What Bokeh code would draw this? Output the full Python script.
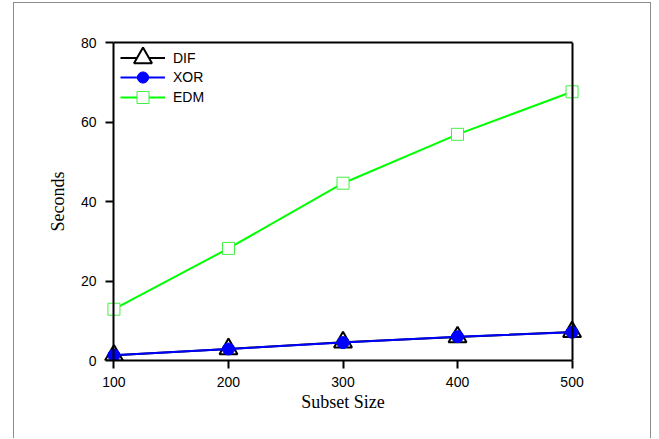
from bokeh.plotting import figure
from bokeh.models import Range1d, LinearAxis, FixedTicker, Legend, LegendItem
from bokeh.embed import file_html
from bokeh.resources import INLINE

# ---- data ----
subset_size = [100, 200, 300, 400, 500]
dif_seconds = [1.3, 2.9, 4.6, 5.9, 7.2]
xor_seconds = [1.3, 2.9, 4.5, 6.0, 7.1]
edm_seconds = [12.9, 28.2, 44.6, 56.9, 67.6]
x_ticks = [100, 200, 300, 400, 500]
y_ticks = [0, 20, 40, 60, 80]
X_MIN, X_MAX = 100, 500
Y_MIN, Y_MAX = 0, 80
X_PAD = 10

TICK_FONT = "Liberation Sans"
TITLE_FONT = "Liberation Serif"

p = figure(width=638, height=436, output_backend="svg", toolbar_location=None,
           x_range=Range1d(X_MIN - X_PAD, X_MAX + X_PAD),
           y_range=Range1d(Y_MIN, Y_MAX),
           min_border_left=88, min_border_right=69,
           min_border_top=39, min_border_bottom=79,
           x_axis_label="Subset Size", y_axis_label="Seconds")
p.margin = (2, 0, 0, 13)
p.styles = {"border-left": "1px solid #8c8c8c",
            "border-top": "1px solid #8c8c8c",
            "border-right": "1px solid #8c8c8c"}
p.grid.visible = False
p.outline_line_color = None
p.background_fill_color = "white"
p.border_fill_color = "white"

for ax in [p.xaxis[0], p.yaxis[0]]:
    ax.axis_line_width = 2
    ax.axis_line_color = "black"
    ax.major_tick_line_width = 2
    ax.major_tick_out = 8
    ax.major_tick_in = 0
    ax.minor_tick_line_color = None
    ax.major_label_text_font = TICK_FONT
    ax.major_label_text_font_size = "14px"
    ax.major_label_text_color = "black"
    ax.axis_label_text_font = TITLE_FONT
    ax.axis_label_text_font_size = "18px"
    ax.axis_label_text_font_style = "normal"
    ax.axis_label_text_color = "black"

p.xaxis.ticker = FixedTicker(ticks=x_ticks)
p.xaxis.bounds = (X_MIN, X_MAX)
p.xaxis.major_label_standoff = 8
p.xaxis.axis_label_standoff = 2

# left axis at the frame edge: labels, title and ticks shifted onto x = X_MIN
yax = p.yaxis[0]
yax.ticker = FixedTicker(ticks=y_ticks)
yax.axis_line_color = None
yax.major_tick_out = -3
yax.major_tick_in = 11
yax.major_label_standoff = 6
yax.axis_label_standoff = 10

# left axis line placed at x = X_MIN (no ticks, no labels)
left_line = LinearAxis(bounds=(Y_MIN, Y_MAX), ticker=FixedTicker(ticks=[]),
                       axis_line_width=2, major_tick_line_color=None,
                       minor_tick_line_color=None, fixed_location=X_MIN)
p.add_layout(left_line, "left")

top_axis = LinearAxis(bounds=(X_MIN, X_MAX), ticker=FixedTicker(ticks=[]),
                      axis_line_width=2, major_tick_line_color=None,
                      minor_tick_line_color=None)
p.add_layout(top_axis, "above")
right_axis = LinearAxis(bounds=(Y_MIN, Y_MAX), ticker=FixedTicker(ticks=[]),
                        axis_line_width=2, major_tick_line_color=None,
                        minor_tick_line_color=None, fixed_location=X_MAX)
p.add_layout(right_axis, "right")

# ---- series ----
dif_l = p.line(subset_size, dif_seconds, line_color="black", line_width=2)
dif_m = p.scatter(subset_size, dif_seconds, marker="triangle", size=18, fill_color="white",
                  line_color="black", line_width=2)

xor_l = p.line(subset_size, xor_seconds, line_color="#0000ff", line_width=2)
xor_m = p.scatter(subset_size, xor_seconds, marker="circle", size=12, fill_color="#0000ff",
                  line_color="#0000ff")

edm_l = p.line(subset_size, edm_seconds, line_color="#00ff00", line_width=2)
edm_m = p.scatter(subset_size, edm_seconds, marker="square", size=12, fill_color="white",
                  line_color="#44ee44", line_width=1)


def make_legend(label, renderers, glyph_h, loc):
    lg = Legend(items=[LegendItem(label=label, renderers=renderers)],
                location=loc, padding=0, margin=0, spacing=0,
                glyph_width=45, glyph_height=glyph_h, label_height=glyph_h,
                label_standoff=8, background_fill_alpha=0, border_line_color=None,
                label_text_font=TICK_FONT, label_text_font_size="14px",
                label_text_color="black")
    p.add_layout(lg)


make_legend("DIF", [dif_l, dif_m], 45, (18, 280))
make_legend("XOR", [xor_l, xor_m], 28, (18, 269))
make_legend("EDM", [edm_l, edm_m], 30, (18, 248))

open("out.html", "w").write(file_html(p, INLINE))
